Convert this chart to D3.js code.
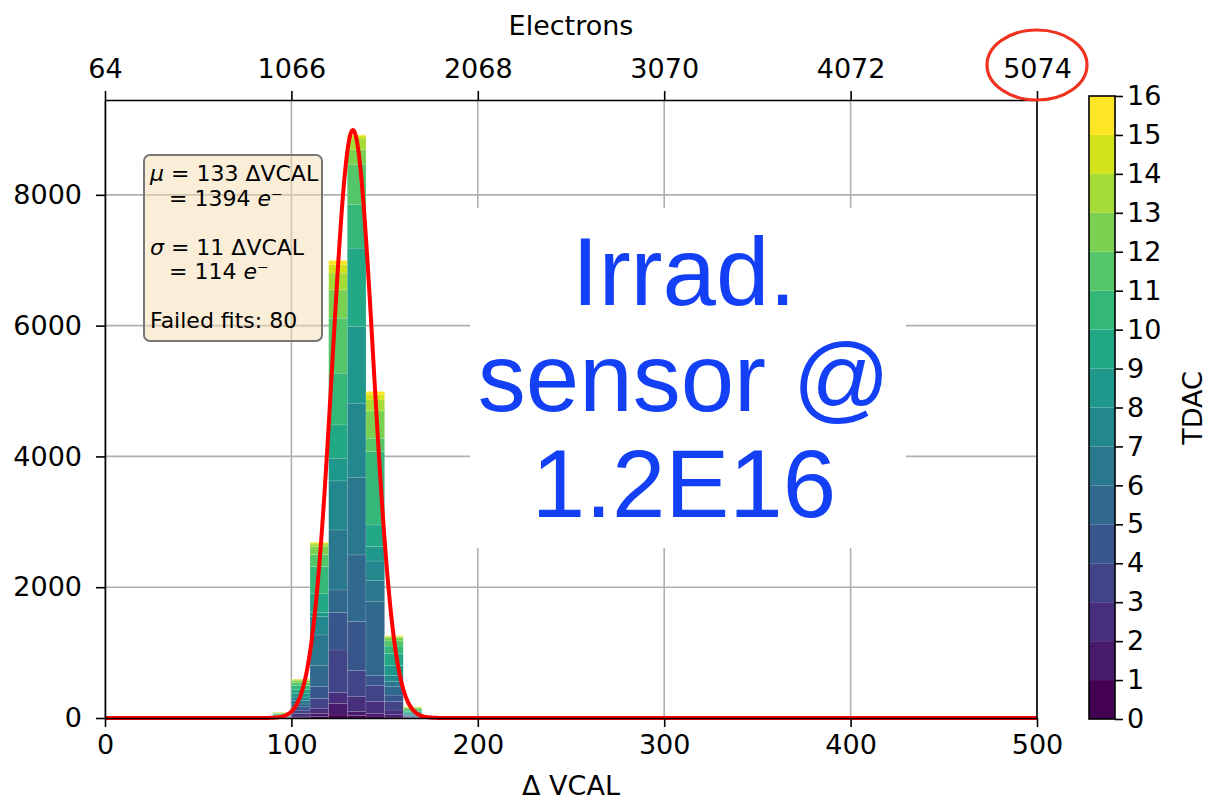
<!DOCTYPE html>
<html>
<head>
<meta charset="utf-8">
<script src="https://cdn.jsdelivr.net/npm/d3@7"></script>
<style>
    body { margin: 0; background: #fff; }
    svg { display: block; }
</style>
</head>
<body>
<svg id="chart" width="1209" height="800"></svg>
<script>
// histogram bins (left edges, width 10 VCAL), counts per TDAC 0..15
var binLeft = [80, 90, 100, 110, 120, 130, 140, 150, 160];
var binWidth = 10;
var tdacCounts = [
    [1, 2, 2, 3, 3, 3, 3, 3, 3, 2, 2, 1, 1, 1, 0, 0],
    [1, 2, 3, 4, 5, 5, 7, 8, 8, 9, 10, 10, 8, 5, 3, 2],
    [10, 20, 42, 48, 50, 44, 51, 55, 60, 59, 61, 40, 30, 15, 10, 2],
    [20, 52, 78, 150, 179, 321, 470, 280, 61, 289, 415, 185, 121, 39, 20, 8],
    [46, 178, 164, 652, 571, 347, 918, 750, 346, 510, 791, 841, 433, 256, 127, 65],
    [40, 57, 229, 398, 750, 1020, 1188, 1132, 1172, 1199, 663, 611, 230, 179, 37, 13],
    [30, 42, 178, 244, 153, 1132, 322, 299, 221, 331, 1122, 204, 422, 164, 77, 51],
    [15, 35, 72, 128, 100, 129, 76, 95, 150, 189, 111, 80, 50, 15, 10, 4],
    [2, 3, 5, 10, 10, 10, 10, 15, 15, 20, 20, 20, 15, 10, 5, 3]
];

// gaussian fit
var fitAmp = 8990;
var fitMu = 133;
var fitSigma = 11;

var xTicks = [0, 100, 200, 300, 400, 500];
var yTicks = [0, 2000, 4000, 6000, 8000];
var electronTicks = ['64', '1066', '2068', '3070', '4072', '5074'];
var tdacTicks = d3.range(0, 17);

var boxLines = [
    {t: 'μ', rest: ' = 133 ΔVCAL', indent: false},
    {t: '', rest: '= 1394 ', e: true, indent: true},
    null,
    {t: 'σ', rest: ' = 11 ΔVCAL', indent: false},
    {t: '', rest: '= 114 ', e: true, indent: true},
    null,
    {t: '', rest: 'Failed fits: 80', indent: false}
];
var bigText = ['Irrad.', 'sensor @', '1.2E16'];

(function () {
    var svg = d3.select('#chart');
    var font = 'DejaVu Sans, sans-serif';
    var fs = 27;

    var mLeft = 105, mRight = 1037, mTop = 100, mBottom = 718;
    var x = d3.scaleLinear().domain([0, 500]).range([mLeft, mRight]);
    var y = d3.scaleLinear().domain([0, 9450]).range([mBottom, mTop]);

    var color = function (k) { return d3.interpolateViridis(k / 15); };

    // grid
    var grid = svg.append('g').attr('stroke', '#b0b0b0').attr('stroke-width', 1.6);
    xTicks.forEach(function (t) {
        grid.append('line').attr('x1', x(t)).attr('x2', x(t)).attr('y1', mTop).attr('y2', mBottom);
    });
    yTicks.forEach(function (t) {
        grid.append('line').attr('x1', mLeft).attr('x2', mRight).attr('y1', y(t)).attr('y2', y(t));
    });

    // stacked bars
    var bars = svg.append('g');
    binLeft.forEach(function (b, i) {
        var cum = 0;
        tdacCounts[i].forEach(function (c, k) {
            if (c <= 0) { return; }
            var y0 = cum, y1 = cum + c;
            cum = y1;
            bars.append('rect')
                .attr('x', x(b))
                .attr('width', x(b + binWidth) - x(b))
                .attr('y', y(y1))
                .attr('height', y(y0) - y(y1))
                .attr('fill', color(k))
                .attr('stroke', 'rgba(255,255,255,0.18)')
                .attr('stroke-width', 0.6);
        });
    });

    // fit curve
    var fitX = d3.range(0, 500.5, 0.5);
    var line = d3.line()
        .x(function (d) { return x(d); })
        .y(function (d) { return y(fitAmp * Math.exp(-0.5 * Math.pow((d - fitMu) / fitSigma, 2))); });
    svg.append('path')
        .datum(fitX)
        .attr('d', line)
        .attr('fill', 'none')
        .attr('stroke', '#ff0000')
        .attr('stroke-width', 4);

    // text box with fit results
    svg.append('rect')
        .attr('x', 144).attr('y', 155)
        .attr('width', 178).attr('height', 186)
        .attr('rx', 6)
        .attr('fill', 'rgba(245,222,179,0.5)')
        .attr('stroke', '#777')
        .attr('stroke-width', 2);
    var boxText = svg.append('g').attr('font-family', font).attr('font-size', 22).attr('fill', '#000');
    boxLines.forEach(function (l, i) {
        if (!l) { return; }
        var tx = boxText.append('text')
            .attr('x', l.indent ? 169 : 150)
            .attr('y', 181 + i * 24.5);
        if (l.t) {
            tx.append('tspan').attr('font-style', 'italic').text(l.t);
        }
        tx.append('tspan').text(l.rest);
        if (l.e) {
            tx.append('tspan').attr('font-style', 'italic').text('e⁻');
        }
    });

    // big annotation with white background
    svg.append('rect')
        .attr('x', 470).attr('y', 208)
        .attr('width', 436).attr('height', 340)
        .attr('fill', '#fff');
    svg.append('g')
        .attr('font-family', 'Liberation Sans, Arial, sans-serif')
        .attr('font-size', 96)
        .attr('fill', '#1340f5')
        .attr('text-anchor', 'middle')
        .selectAll('text')
        .data(bigText)
        .enter()
        .append('text')
        .attr('x', 684)
        .attr('y', function (d, i) { return 305 + i * 106; })
        .text(function (d) { return d; });

    // axes
    var axisStyle = function (g) {
        g.selectAll('text').attr('font-family', font).attr('font-size', fs).attr('fill', '#000');
        g.selectAll('line').attr('stroke', '#000').attr('stroke-width', 1.6);
        g.select('.domain').attr('stroke', '#000').attr('stroke-width', 1.6);
    };
    svg.append('g')
        .attr('transform', 'translate(0,' + mBottom + ')')
        .call(d3.axisBottom(x).tickValues(xTicks).tickSize(9).tickSizeOuter(0).tickPadding(8))
        .call(axisStyle);
    svg.append('g')
        .attr('transform', 'translate(' + mLeft + ',0)')
        .call(d3.axisLeft(y).tickValues(yTicks).tickFormat(d3.format('d'))
            .tickSize(9).tickSizeOuter(0).tickPadding(14))
        .call(axisStyle);
    svg.append('g')
        .attr('transform', 'translate(0,' + mTop + ')')
        .call(d3.axisTop(x).tickValues(xTicks).tickSize(9).tickSizeOuter(0).tickPadding(13)
            .tickFormat(function (d, i) { return electronTicks[i]; }))
        .call(axisStyle);
    svg.append('line')
        .attr('x1', mRight).attr('x2', mRight).attr('y1', mTop).attr('y2', mBottom)
        .attr('stroke', '#000').attr('stroke-width', 1.6);

    svg.append('text')
        .attr('x', (mLeft + mRight) / 2).attr('y', 795)
        .attr('text-anchor', 'middle')
        .attr('font-family', font).attr('font-size', fs)
        .text('Δ VCAL');
    svg.append('text')
        .attr('x', (mLeft + mRight) / 2).attr('y', 35)
        .attr('text-anchor', 'middle')
        .attr('font-family', font).attr('font-size', fs)
        .text('Electrons');

    // colorbar
    var cbX = 1089, cbW = 26, cbTop = 96, cbBottom = 719;
    var cy = d3.scaleLinear().domain([0, 16]).range([cbBottom, cbTop]);
    d3.range(0, 16).forEach(function (k) {
        svg.append('rect')
            .attr('x', cbX).attr('width', cbW)
            .attr('y', cy(k + 1)).attr('height', cy(k) - cy(k + 1))
            .attr('fill', color(k));
    });
    svg.append('rect')
        .attr('x', cbX).attr('y', cbTop).attr('width', cbW).attr('height', cbBottom - cbTop)
        .attr('fill', 'none').attr('stroke', '#000').attr('stroke-width', 1.6);
    svg.append('g')
        .attr('transform', 'translate(' + (cbX + cbW) + ',0)')
        .call(d3.axisRight(cy).tickValues(tdacTicks).tickSize(8).tickSizeOuter(0).tickPadding(4))
        .call(axisStyle)
        .call(function (g) { g.select('.domain').remove(); });
    svg.append('text')
        .attr('transform', 'translate(1202,408) rotate(-90)')
        .attr('text-anchor', 'middle')
        .attr('font-family', font).attr('font-size', fs)
        .text('TDAC');

    // red highlight around last electron tick
    svg.append('ellipse')
        .attr('cx', x(500)).attr('cy', 65)
        .attr('rx', 50).attr('ry', 35)
        .attr('fill', 'none')
        .attr('stroke', '#f0321e')
        .attr('stroke-width', 3.2);
})();
</script>
</body>
</html>
